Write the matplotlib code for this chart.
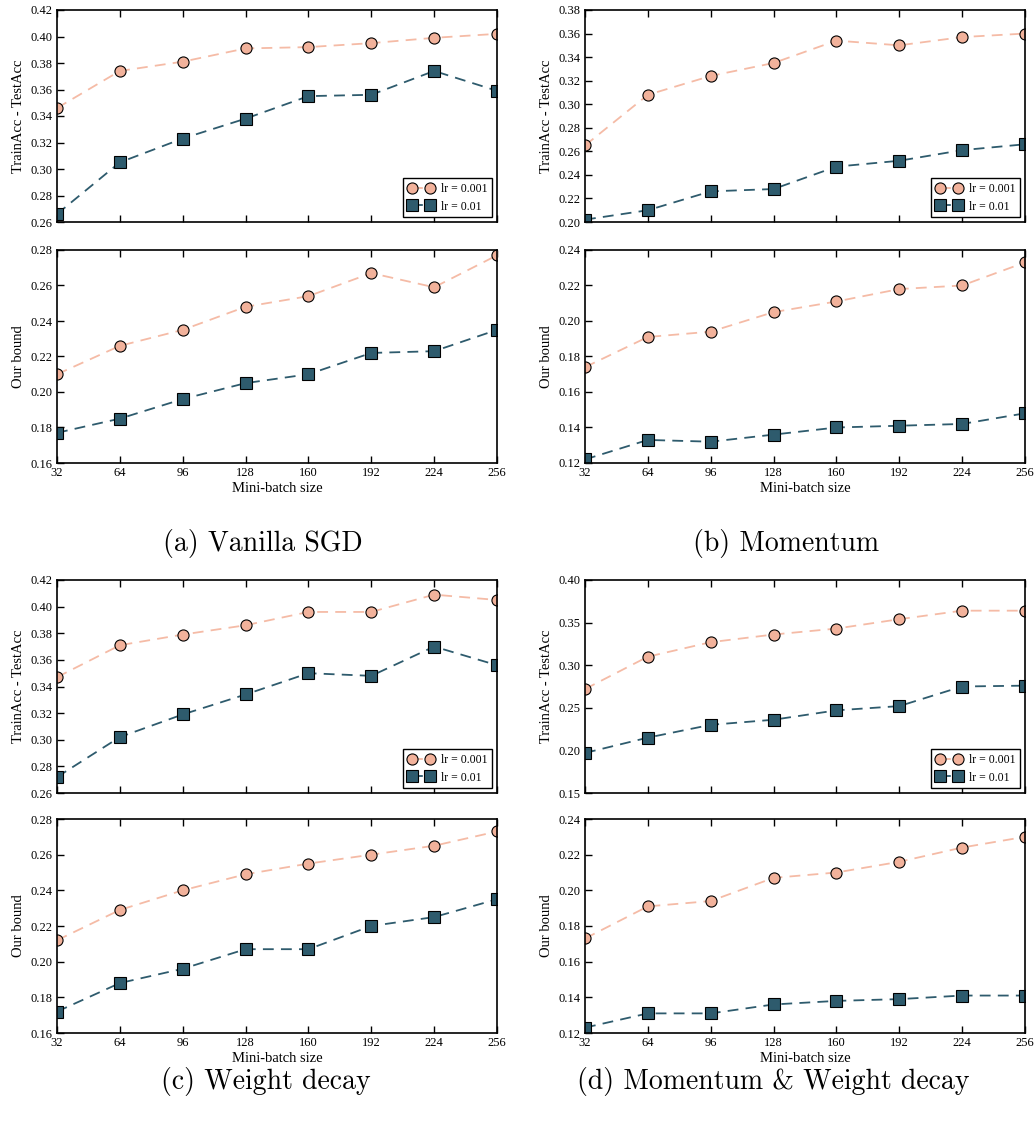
import matplotlib
matplotlib.use("Agg")
import matplotlib.pyplot as plt

# Datos
batch = [32, 64, 96, 128, 160, 192, 224, 256]

# (a) Vanilla SGD
gap_a_001 = [0.346, 0.374, 0.381, 0.391, 0.392, 0.395, 0.399, 0.402]
gap_a_01 = [0.266, 0.305, 0.323, 0.338, 0.355, 0.356, 0.374, 0.359]
bnd_a_001 = [0.210, 0.226, 0.235, 0.248, 0.254, 0.267, 0.259, 0.277]
bnd_a_01 = [0.177, 0.185, 0.196, 0.205, 0.210, 0.222, 0.223, 0.235]

# (b) Momentum
gap_b_001 = [0.265, 0.308, 0.324, 0.335, 0.354, 0.350, 0.357, 0.360]
gap_b_01 = [0.202, 0.210, 0.226, 0.228, 0.247, 0.252, 0.261, 0.266]
bnd_b_001 = [0.174, 0.191, 0.194, 0.205, 0.211, 0.218, 0.220, 0.233]
bnd_b_01 = [0.122, 0.133, 0.132, 0.136, 0.140, 0.141, 0.142, 0.148]

# (c) Weight decay
gap_c_001 = [0.347, 0.371, 0.379, 0.386, 0.396, 0.396, 0.409, 0.405]
gap_c_01 = [0.272, 0.302, 0.319, 0.334, 0.350, 0.348, 0.370, 0.356]
bnd_c_001 = [0.212, 0.229, 0.240, 0.249, 0.255, 0.260, 0.265, 0.273]
bnd_c_01 = [0.172, 0.188, 0.196, 0.207, 0.207, 0.220, 0.225, 0.235]

# (d) Momentum & Weight decay
gap_d_001 = [0.272, 0.310, 0.327, 0.336, 0.343, 0.354, 0.364, 0.364]
gap_d_01 = [0.197, 0.215, 0.230, 0.236, 0.247, 0.252, 0.275, 0.276]
bnd_d_001 = [0.173, 0.191, 0.194, 0.207, 0.210, 0.216, 0.224, 0.230]
bnd_d_01 = [0.123, 0.131, 0.131, 0.136, 0.138, 0.139, 0.141, 0.141]

captions = ["(a) Vanilla SGD", "(b) Momentum", "(c) Weight decay", "(d) Momentum & Weight decay"]

plt.rcParams['font.family'] = ['Liberation Serif', 'DejaVu Serif']
plt.rcParams['mathtext.fontset'] = 'stix'

W, H = 1034, 1127
fig = plt.figure(figsize=(W / 100, H / 100), dpi=100)

c_rosa = '#f2b29b'
c_rosa_linea = '#f5bba6'
c_azul = '#2e5b6d'


def caja(x0, y0, x1, y1):
    # coordenadas en pixeles -> fraccion de figura
    return [x0 / W, 1 - y1 / H, (x1 - x0) / W, (y1 - y0) / H]


def estilo(ax, ylim, paso):
    ax.set_xlim(32, 256)
    ax.set_xticks(batch)
    ax.set_ylim(*ylim)
    n = int(round((ylim[1] - ylim[0]) / paso))
    ax.set_yticks([ylim[0] + i * paso for i in range(n + 1)])
    ax.yaxis.set_major_formatter(matplotlib.ticker.FormatStrFormatter('%.2f'))
    ax.tick_params(direction='in', top=True, right=False, length=5, width=1,
                   labelsize=9, pad=3)
    for s in ax.spines.values():
        s.set_linewidth(1.2)


def dibujar(ax, y1, y2):
    ax.plot(batch, y1, linestyle=(0, (6, 4)), color=c_rosa_linea, lw=1.3,
            marker='o', markersize=8, markerfacecolor=c_rosa, markeredgecolor='black',
            markeredgewidth=0.8, label='lr = 0.001')
    ax.plot(batch, y2, linestyle=(0, (6, 4)), color=c_azul, lw=1.3,
            marker='s', markersize=8, markerfacecolor=c_azul, markeredgecolor='black',
            markeredgewidth=0.8, label='lr = 0.01')


paneles = [
    (57, 497, 10, 222, 250, 463, gap_a_001, gap_a_01, bnd_a_001, bnd_a_01,
     (0.26, 0.42), 0.02, (0.16, 0.28), 0.02, 263, 543),
    (585, 1025, 10, 222, 250, 463, gap_b_001, gap_b_01, bnd_b_001, bnd_b_01,
     (0.20, 0.38), 0.02, (0.12, 0.24), 0.02, 786, 543),
    (57, 497, 580, 793, 819, 1033, gap_c_001, gap_c_01, bnd_c_001, bnd_c_01,
     (0.26, 0.42), 0.02, (0.16, 0.28), 0.02, 266, 1082),
    (585, 1025, 580, 793, 819, 1033, gap_d_001, gap_d_01, bnd_d_001, bnd_d_01,
     (0.15, 0.40), 0.05, (0.12, 0.24), 0.02, 773, 1082),
]

for k, p in enumerate(paneles):
    x0, x1, ta, tb, ba, bb, g1, g2, b1, b2, ylg, pg, ylb, pb, cx, cy = p

    ax1 = fig.add_axes(caja(x0, ta, x1, tb))
    dibujar(ax1, g1, g2)
    estilo(ax1, ylg, pg)
    ax1.set_xticklabels([])
    ax1.set_ylabel('TrainAcc - TestAcc', fontsize=10.5)
    leg = ax1.legend(loc='lower right', numpoints=2, fontsize=8.5, fancybox=False,
                     framealpha=1, edgecolor='black', handlelength=2.2,
                     borderaxespad=0.4, handletextpad=0.6, labelspacing=0.5)
    leg.get_frame().set_linewidth(1.0)

    ax2 = fig.add_axes(caja(x0, ba, x1, bb))
    dibujar(ax2, b1, b2)
    estilo(ax2, ylb, pb)
    ax2.set_ylabel('Our bound', fontsize=10.5)
    ax2.set_xlabel('Mini-batch size', fontsize=10.5, labelpad=2)

    fig.text(cx / W, 1 - cy / H, captions[k], ha='center', va='center',
             fontsize=20, family=['cmr10', 'DejaVu Serif'])

fig.savefig('out.png', dpi=100)
